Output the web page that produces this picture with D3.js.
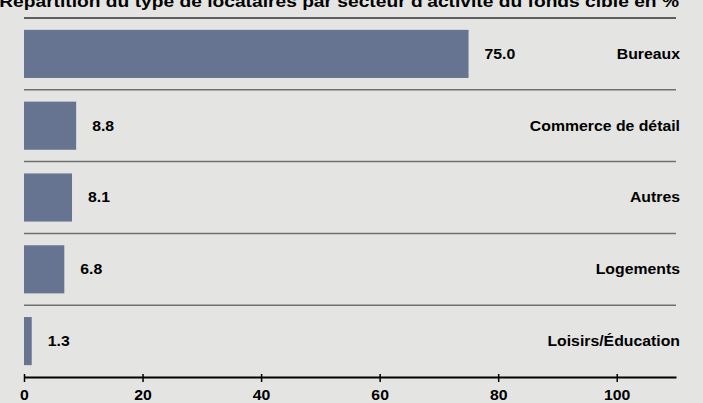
<!DOCTYPE html>
<html>
<head>
<meta charset="utf-8">
<script src="https://cdn.jsdelivr.net/npm/d3@7"></script>
<style>
  body { margin: 0; background: #e4e4e2; }
  text { font-family: "Liberation Sans", Arial, sans-serif; font-weight: bold; fill: #000; }
</style>
</head>
<body>
<script>
// data
var categories = ["Bureaux", "Commerce de détail", "Autres", "Logements", "Loisirs/Éducation"];
var values = [75.0, 8.8, 8.1, 6.8, 1.3];
var tickValues = [0, 20, 40, 60, 80, 100];
var title = "Répartition du type de locataires par secteur d'activité du fonds cible en %";

var width = 703, height = 403;
var mLeft = 24, mRight = 676, mTop = 18, mBottom = 377;
var sx = 1.13; // text in the original is a bit wider than Arial

var svg = d3.select("body").append("svg")
	.attr("width", width)
	.attr("height", height)
	.style("display", "block");

svg.append("rect")
	.attr("width", width)
	.attr("height", height)
	.attr("fill", "#e4e4e2");

var x = d3.scaleLinear().domain([0, 110]).range([mLeft, mRight]);
var y = d3.scaleBand().domain(categories).range([mTop, mBottom]).paddingInner(0.33).paddingOuter(0.165);

// title (cut off at the top like the original)
svg.append("text")
	.attr("transform", "translate(679,7) scale(" + sx + ",1)")
	.attr("text-anchor", "end")
	.style("font-size", "17px")
	.text(title);

// separators between rows
var step = y.step();
var seps = categories.map(function(d, i){ return i; });
svg.selectAll("line.sep")
	.data(seps)
	.enter().append("line")
	.attr("class", "sep")
	.attr("x1", mLeft)
	.attr("x2", mRight)
	.attr("y1", function(i){ return mTop + i * step; })
	.attr("y2", function(i){ return mTop + i * step; })
	.attr("stroke", function(i){ return i == 0 ? "#333" : "#707070"; })
	.attr("stroke-width", 1.5);

// bars
svg.selectAll("rect.bar")
	.data(values)
	.enter().append("rect")
	.attr("class", "bar")
	.attr("x", x(0))
	.attr("y", function(d, i){ return y(categories[i]); })
	.attr("width", function(d){ return x(d) - x(0); })
	.attr("height", y.bandwidth())
	.attr("fill", "#667391");

// value labels
svg.selectAll("text.val")
	.data(values)
	.enter().append("text")
	.attr("class", "val")
	.attr("transform", function(d, i){
		return "translate(" + (x(d) + 16) + "," + (y(categories[i]) + y.bandwidth() / 2) + ") scale(" + sx + ",1)";
	})
	.attr("dy", "0.35em")
	.style("font-size", "14px")
	.text(function(d){ return d.toFixed(1); });

// category labels
svg.selectAll("text.cat")
	.data(categories)
	.enter().append("text")
	.attr("class", "cat")
	.attr("transform", function(d){
		return "translate(680," + (y(d) + y.bandwidth() / 2) + ") scale(" + sx + ",1)";
	})
	.attr("dy", "0.35em")
	.attr("text-anchor", "end")
	.style("font-size", "14px")
	.text(function(d){ return d; });

// x axis
var axis = svg.append("g")
	.attr("transform", "translate(0," + mBottom + ")")
	.call(d3.axisBottom(x).tickValues(tickValues).tickSize(5).tickPadding(8).tickSizeOuter(0));
axis.select(".domain").attr("stroke", "#000").attr("stroke-width", 2);
axis.selectAll(".tick line").attr("stroke", "#000").attr("stroke-width", 1.5).attr("y1", -3);
axis.selectAll(".tick text")
	.attr("transform", "scale(" + sx + ",1)")
	.style("font-size", "14px")
	.style("font-family", "'Liberation Sans', Arial, sans-serif")
	.style("font-weight", "bold");
</script>
</body>
</html>
